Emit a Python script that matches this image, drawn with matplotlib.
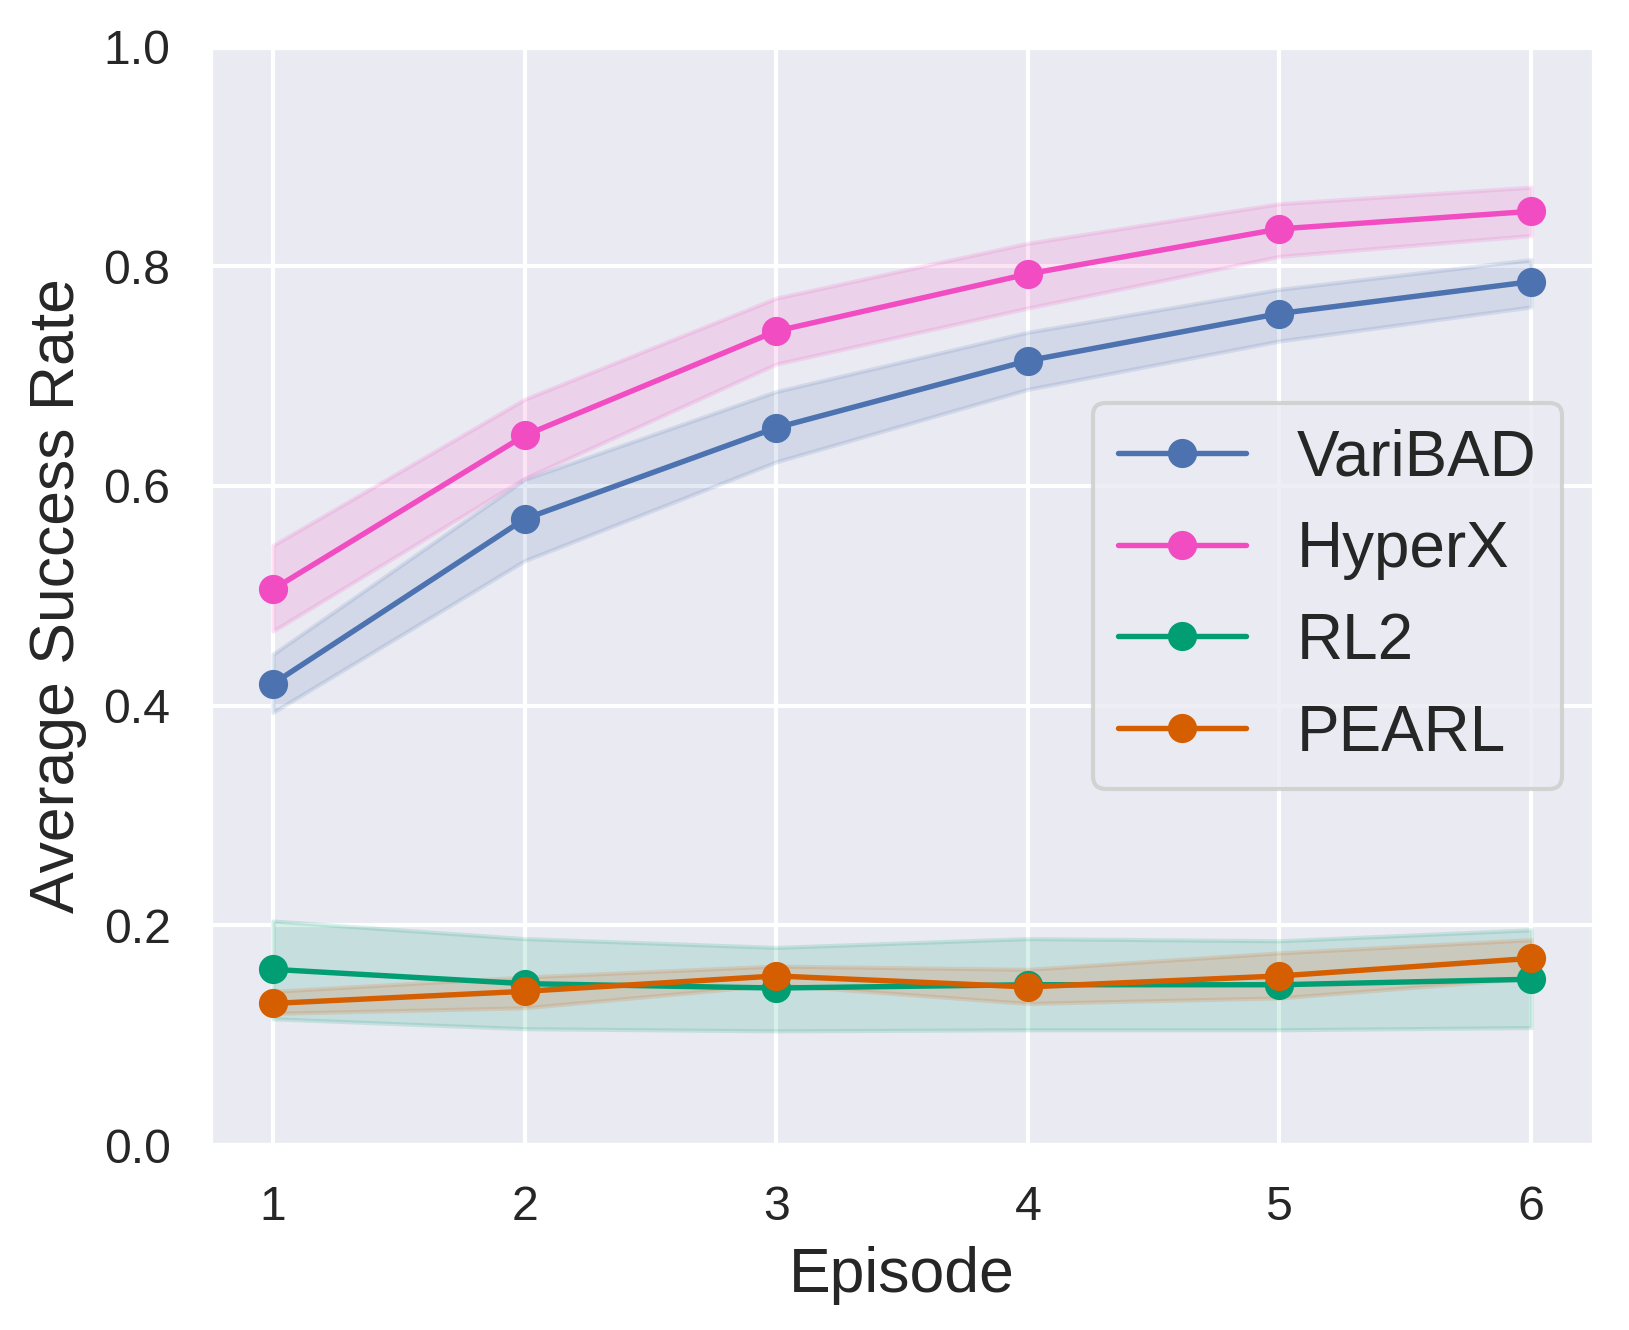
import matplotlib
matplotlib.use("Agg")
import matplotlib.pyplot as plt
import seaborn as sns
import numpy as np

episodes = [1, 2, 3, 4, 5, 6]

varibad_mean = [0.420, 0.570, 0.653, 0.714, 0.757, 0.786]
varibad_low = [0.394, 0.532, 0.622, 0.688, 0.732, 0.763]
varibad_high = [0.447, 0.606, 0.686, 0.740, 0.779, 0.806]

hyperx_mean = [0.506, 0.646, 0.741, 0.793, 0.834, 0.850]
hyperx_low = [0.468, 0.607, 0.711, 0.762, 0.809, 0.828]
hyperx_high = [0.546, 0.679, 0.771, 0.821, 0.857, 0.872]

rl2_mean = [0.160, 0.147, 0.143, 0.146, 0.146, 0.151]
rl2_low = [0.115, 0.106, 0.104, 0.105, 0.105, 0.107]
rl2_high = [0.204, 0.188, 0.180, 0.188, 0.186, 0.196]

pearl_mean = [0.129, 0.140, 0.154, 0.144, 0.154, 0.170]
pearl_low = [0.120, 0.125, 0.146, 0.129, 0.134, 0.152]
pearl_high = [0.140, 0.153, 0.163, 0.160, 0.175, 0.187]

names = ["VariBAD", "HyperX", "RL2", "PEARL"]
colors = ["#4C72B0", "#F14CC1", "#029E73", "#D55E00"]

sns.set_theme(style="darkgrid")
plt.rcParams['font.family'] = ['Liberation Sans', 'DejaVu Sans']

fig = plt.figure(figsize=(1629 / 300, 1330 / 300), dpi=300)
left, right, bottom, top = 0.129, 0.9785, 0.139, 0.965
ax = fig.add_axes([left, bottom, right - left, top - bottom])

series = [
    (varibad_mean, varibad_low, varibad_high),
    (hyperx_mean, hyperx_low, hyperx_high),
    (rl2_mean, rl2_low, rl2_high),
    (pearl_mean, pearl_low, pearl_high),
]
for (m, lo, hi), name, c in zip(series, names, colors):
    ax.fill_between(episodes, lo, hi, color=c, alpha=0.15)
    ax.plot(episodes, m, marker='o', color=c, label=name, lw=1.3, markersize=6)

ax.set_ylim(0, 1.0)
ax.set_yticks([0.0, 0.2, 0.4, 0.6, 0.8, 1.0])
ax.set_xticks(episodes)
ax.tick_params(labelsize=11.6)
ax.set_xlabel("Episode", fontsize=15)
ax.set_ylabel("Average Success Rate", fontsize=15)
ax.legend(loc='center right', fontsize=15.3)

fig.savefig("out.png", dpi=300)
